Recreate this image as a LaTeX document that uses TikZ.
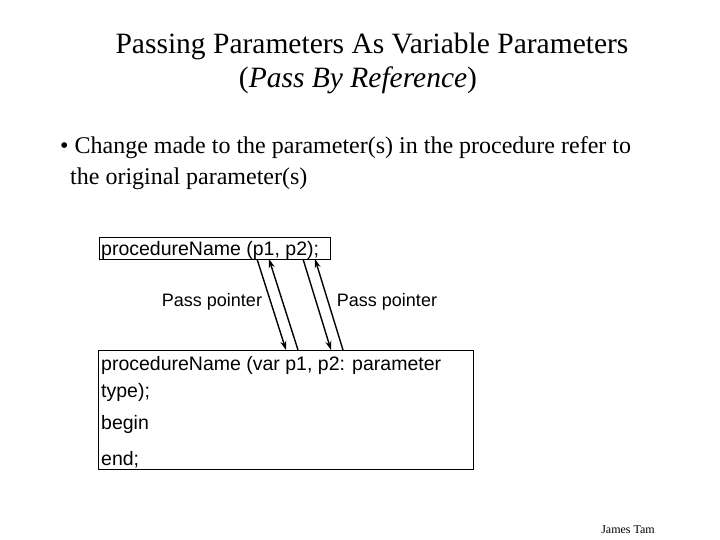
\documentclass[tikz,border=0pt]{standalone}
\usepackage{fontspec}
\setmainfont{Liberation Serif}
\setsansfont{Liberation Sans}
\usetikzlibrary{arrows.meta}
\begin{document}
\begin{tikzpicture}[x=1pt,y=-1pt,
  codebox/.style={draw, line width=0.8pt, inner sep=0pt},
  code/.style={font=\sffamily\fontsize{19.5}{24}\selectfont, anchor=base west, inner sep=0pt},
  lbl/.style={font=\sffamily\fontsize{18}{21}\selectfont, inner sep=0pt},
  ptr/.style={line width=1.4pt, -{Stealth[length=9pt,width=6pt]}}]
\useasboundingbox (0,0) rectangle (720,540);
% title
\node[font=\fontsize{29.5}{34}\selectfont, anchor=base] (t1) at (372,54) {Passing Parameters As Variable Parameters};
\node[font=\fontsize{29.5}{34}\selectfont, anchor=base] (t2) at (358,88) {(\textit{Pass By Reference})};
% bullet
\node[font=\fontsize{24}{28}\selectfont, anchor=base west, inner sep=0pt] (b1) at (60,154) {\textbullet\ Change made to the parameter(s) in the procedure refer to};
\node[font=\fontsize{24}{28}\selectfont, anchor=base west, inner sep=0pt] (b2) at (70,185) {the original parameter(s)};
% box 1
\node[codebox, anchor=north west, minimum width=231pt, minimum height=22pt] (box1) at (99,237) {};
\node[code] (c1) at (101,255) {procedureName (p1, p2);};
% box 2
\node[codebox, anchor=north west, minimum width=375pt, minimum height=119pt] (box2) at (98,350) {};
\node[code] (c2) at (101,370) {procedureName (var p1, p2: parameter};
\node[code] (c3) at (101,397) {type);};
\node[code] (c4) at (101,429) {begin};
\node[code] (c5) at (101,465) {end;};
% labels
\node[lbl] (l1) at (212,302) {Pass pointer};
\node[lbl] (l2) at (387,302) {Pass pointer};
% arrows
\coordinate (a1s) at (257,259); \coordinate (a1e) at (286,350);
\coordinate (a2s) at (298,350); \coordinate (a2e) at (269,259);
\coordinate (a3s) at (303,259); \coordinate (a3e) at (331,350);
\coordinate (a4s) at (343,350); \coordinate (a4e) at (315,259);
\draw[ptr] (a1s) -- (a1e);
\draw[ptr] (a2s) -- (a2e);
\draw[ptr] (a3s) -- (a3e);
\draw[ptr] (a4s) -- (a4e);
% footer
\node[font=\fontsize{12}{14}\selectfont, inner sep=0pt] (ft) at (628,530) {James Tam};
\end{tikzpicture}
\end{document}
